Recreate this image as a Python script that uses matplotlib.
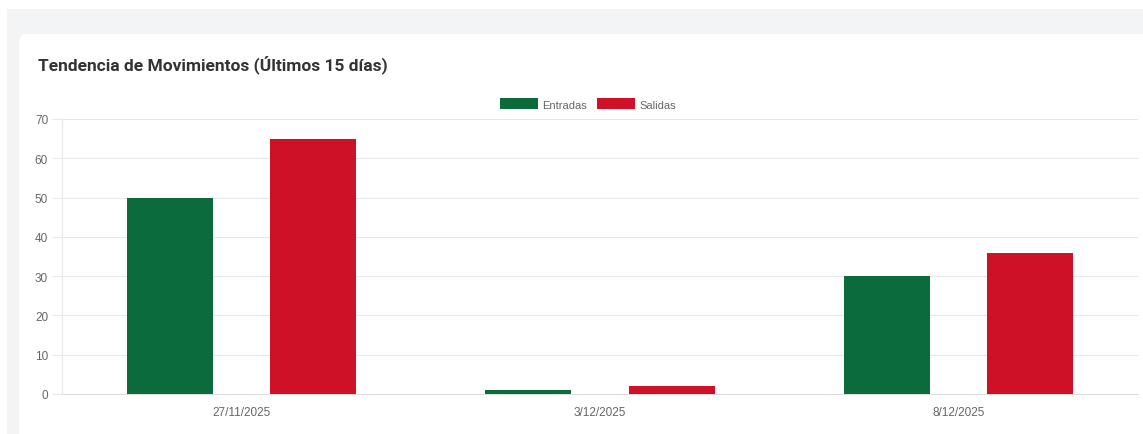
import matplotlib
matplotlib.use("Agg")
import matplotlib.pyplot as plt
from matplotlib.patches import FancyBboxPatch, Rectangle
import numpy as np

# data
fechas = ["27/11/2025", "3/12/2025", "8/12/2025"]
entradas = [50, 1, 30]
salidas = [65, 2, 36]
y_ticks = [0, 10, 20, 30, 40, 50, 60, 70]

VERDE = "#0b6b3c"
ROJO = "#ce1126"
W, H = 1143, 435

fig = plt.figure(figsize=(W / 100, H / 100), dpi=100, facecolor="white")

# page background + card (coords in inches, y from bottom)
def px(x, y):
    return x / 100, (H - y) / 100

fig.patches.append(Rectangle(px(7, 435), (W - 7) / 100, (435 - 10) / 100,
                             transform=fig.dpi_scale_trans, facecolor="#f3f4f6",
                             edgecolor="none", zorder=-3))
fig.patches.append(FancyBboxPatch(px(19, 460), (W + 20 - 19) / 100, (460 - 35) / 100,
                                  boxstyle="round,pad=0,rounding_size=0.08",
                                  transform=fig.dpi_scale_trans, facecolor="white",
                                  edgecolor="none", zorder=-2))

fig.text(38 / W, 1 - 65 / H, "Tendencia de Movimientos (Últimos 15 días)",
         fontsize=12.5, fontweight="bold", color="#333333", family="Roboto",
         va="center", ha="left")

ax = fig.add_axes([62 / W, 40 / H, (1138 - 62) / W, (395 - 120) / H])
ax.set_facecolor("none")

x = np.arange(len(fechas))
cat_w = 0.8
bw = cat_w / 2 * 0.6
ax.bar(x - cat_w / 4, entradas, bw, color=VERDE, label="Entradas", zorder=3)
ax.bar(x + cat_w / 4, salidas, bw, color=ROJO, label="Salidas", zorder=3)

ax.set_xlim(-0.5, len(fechas) - 0.5)
ax.set_ylim(0, 70)
ax.set_yticks(y_ticks)
ax.set_xticks(x)
ax.set_xticklabels(fechas)

ax.grid(axis="y", color="#e8e8e8", linewidth=0.8, zorder=0)
for s in ["top", "right"]:
    ax.spines[s].set_visible(False)
ax.spines["left"].set_color("#e8e8e8")
ax.spines["bottom"].set_color("#dddddd")
ax.tick_params(axis="y", length=7, color="#e8e8e8", pad=3, labelsize=8.5, labelcolor="#666666")
ax.tick_params(axis="x", length=0, pad=9, labelsize=8.5, labelcolor="#666666")
for lab in ax.get_xticklabels() + ax.get_yticklabels():
    lab.set_family("Liberation Sans")

# legend sits a bit left of the plot centre, like the original
leg = ax.legend(loc="lower center", bbox_to_anchor=(0.5 - 12 / 1076, 1.0), ncol=2, frameon=False,
                handlelength=3.4, handleheight=1.1, handletextpad=0.4, columnspacing=0.9,
                prop={"family": "Liberation Sans", "size": 8}, borderaxespad=0.45)
for t in leg.get_texts():
    t.set_color("#666666")

fig.savefig("out.png", dpi=100, facecolor="white")
